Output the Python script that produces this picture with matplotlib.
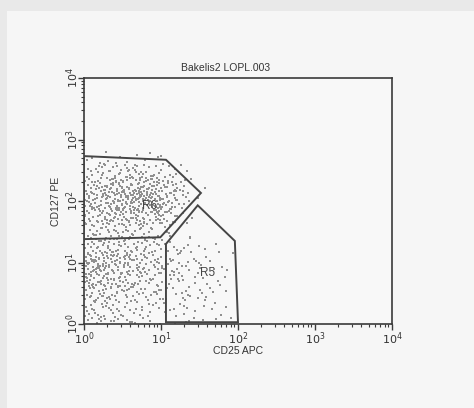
import numpy as np
import matplotlib
matplotlib.use("Agg")
import matplotlib.pyplot as plt
from matplotlib.patches import Polygon, Rectangle
from matplotlib.ticker import LogLocator, NullFormatter, FixedLocator

plt.rcParams['font.family'] = ['Liberation Sans', 'DejaVu Sans']

title = "Bakelis2 LOPL.003"
x_label = "CD25 APC"
y_label = "CD127 PE"

# Event counts per bin on log10 scale (columns: CD25 decades, rows: CD127 decades)
x_bin_edges = [0.0, 0.2, 0.4, 0.6, 0.8, 1.0, 1.2, 1.4, 1.6, 1.8, 2.0]
y_bin_edges = [0.0, 0.2, 0.4, 0.6, 0.8, 1.0, 1.2, 1.4, 1.6, 1.8, 2.0,
               2.2, 2.4, 2.6, 2.8]
event_counts = [
    [8, 7, 6, 5, 4, 3, 3, 2, 2, 1],      # 0.0-0.2
    [8, 8, 7, 6, 5, 4, 4, 3, 2, 1],      # 0.2-0.4
    [11, 11, 10, 8, 6, 5, 5, 4, 2, 1],   # 0.4-0.6
    [15, 15, 12, 9, 8, 5, 5, 4, 2, 1],   # 0.6-0.8
    [18, 19, 16, 12, 9, 6, 6, 4, 2, 1],  # 0.8-1.0
    [17, 18, 15, 12, 9, 6, 5, 3, 2, 1],  # 1.0-1.2
    [11, 12, 11, 9, 8, 5, 4, 2, 1, 0],   # 1.2-1.4
    [8, 9, 9, 8, 6, 4, 1, 0, 0, 0],      # 1.4-1.6
    [11, 14, 15, 15, 12, 8, 3, 0, 0, 0], # 1.6-1.8
    [14, 18, 21, 23, 21, 14, 5, 0, 0, 0],# 1.8-2.0
    [14, 18, 23, 26, 24, 15, 6, 1, 0, 0],# 2.0-2.2
    [11, 14, 17, 18, 17, 11, 5, 1, 0, 0],# 2.2-2.4
    [6, 8, 9, 9, 8, 5, 2, 0, 0, 0],      # 2.4-2.6
    [2, 3, 3, 2, 2, 1, 0, 0, 0, 0],      # 2.6-2.8
]

# Gate outlines (CD25, CD127)
gate_r6_x = [1.0, 11.6, 33.0, 9.8, 1.0]
gate_r6_y = [537.0, 468.0, 135.0, 25.7, 24.0]
gate_r5_x = [11.6, 11.6, 30.0, 91.0, 100.0]
gate_r5_y = [1.07, 20.0, 85.0, 22.4, 1.07]
gate_names = ["R6", "R5"]
gate_label_pos = [(7.2, 83.0), (40.0, 6.7)]


def halton(i, base):
    f, r = 1.0, 0.0
    while i > 0:
        f /= base
        r += f * (i % base)
        i //= base
    return r


# Place events: a Halton point set over the binned region, thinned so each
# bin keeps its listed number of events
counts = np.array(event_counts, dtype=float)
nx, ny = counts.shape[1], counts.shape[0]
per_bin = 40
n_total = nx * ny * per_bin
xs, ys = [], []
kept = np.zeros_like(counts)
for i in range(1, n_total * 2):
    u, v, w = halton(i, 2), halton(i, 3), halton(i, 5)
    c = min(int(u * nx), nx - 1)
    r = min(int(v * ny), ny - 1)
    if kept[r, c] >= counts[r, c]:
        continue
    if w < counts[r, c] / per_bin:
        kept[r, c] += 1
        xs.append(10 ** (x_bin_edges[0] + u * (x_bin_edges[-1] - x_bin_edges[0])))
        ys.append(10 ** (y_bin_edges[0] + v * (y_bin_edges[-1] - y_bin_edges[0])))

fig = plt.figure(figsize=(4.74, 4.08), dpi=100)
fig.patch.set_facecolor('#e9e9e9')
fig.add_artist(Rectangle((7 / 474, 0), 1, 1 - 11 / 408, transform=fig.transFigure,
                         facecolor='#f6f6f6', edgecolor='none', zorder=-10))

ax = fig.add_axes([84 / 474, 1 - 324 / 408, 308 / 474, 246 / 408])
ax.set_facecolor('#f8f8f8')
ax.set_xscale('log')
ax.set_yscale('log')
ax.set_xlim(1, 1e4)
ax.set_ylim(1, 1e4)

ax.scatter(xs, ys, s=2.0, c='#909090', marker='s', linewidths=0, zorder=2)

for gx, gy in [(gate_r6_x, gate_r6_y), (gate_r5_x, gate_r5_y)]:
    ax.add_patch(Polygon(list(zip(gx, gy)), closed=True, fill=False,
                         edgecolor='#454545', linewidth=1.4, zorder=3))
for name, (lx, ly) in zip(gate_names, gate_label_pos):
    ax.text(lx, ly, name, fontsize=8.5, color='#444444', ha='center', va='center',
            zorder=4)

for s in ax.spines.values():
    s.set_color('#3a3a3a')
    s.set_linewidth(1.2)

major = [1, 10, 100, 1000, 10000]
ax.xaxis.set_major_locator(FixedLocator(major))
ax.yaxis.set_major_locator(FixedLocator(major))
ax.xaxis.set_minor_locator(LogLocator(base=10, subs=np.arange(2, 10)))
ax.yaxis.set_minor_locator(LogLocator(base=10, subs=np.arange(2, 10)))
ax.xaxis.set_minor_formatter(NullFormatter())
ax.yaxis.set_minor_formatter(NullFormatter())
tick_texts = [r'$10^{%d}$' % i for i in range(5)]
ax.set_xticklabels(tick_texts)
ax.set_yticklabels(tick_texts, rotation=90, va='center')
ax.tick_params(which='major', length=4, width=1.0, color='#3a3a3a',
               labelsize=8, labelcolor='#333333')
ax.tick_params(which='minor', length=2.5, width=0.8, color='#3a3a3a')
ax.tick_params(axis='x', pad=0.5)
ax.tick_params(axis='y', pad=-1.5)

fig.text(226 / 474, 1 - 68 / 408, title, fontsize=7.5, color='#333333',
         ha='center', va='center')
fig.text(238 / 474, 1 - 351 / 408, x_label, fontsize=7.5, color='#333333',
         ha='center', va='center')
fig.text(56 / 474, 1 - 201 / 408, y_label, fontsize=7.5, color='#333333',
         ha='center', va='center', rotation=90)

fig.savefig('out.png', dpi=100, facecolor=fig.get_facecolor())
